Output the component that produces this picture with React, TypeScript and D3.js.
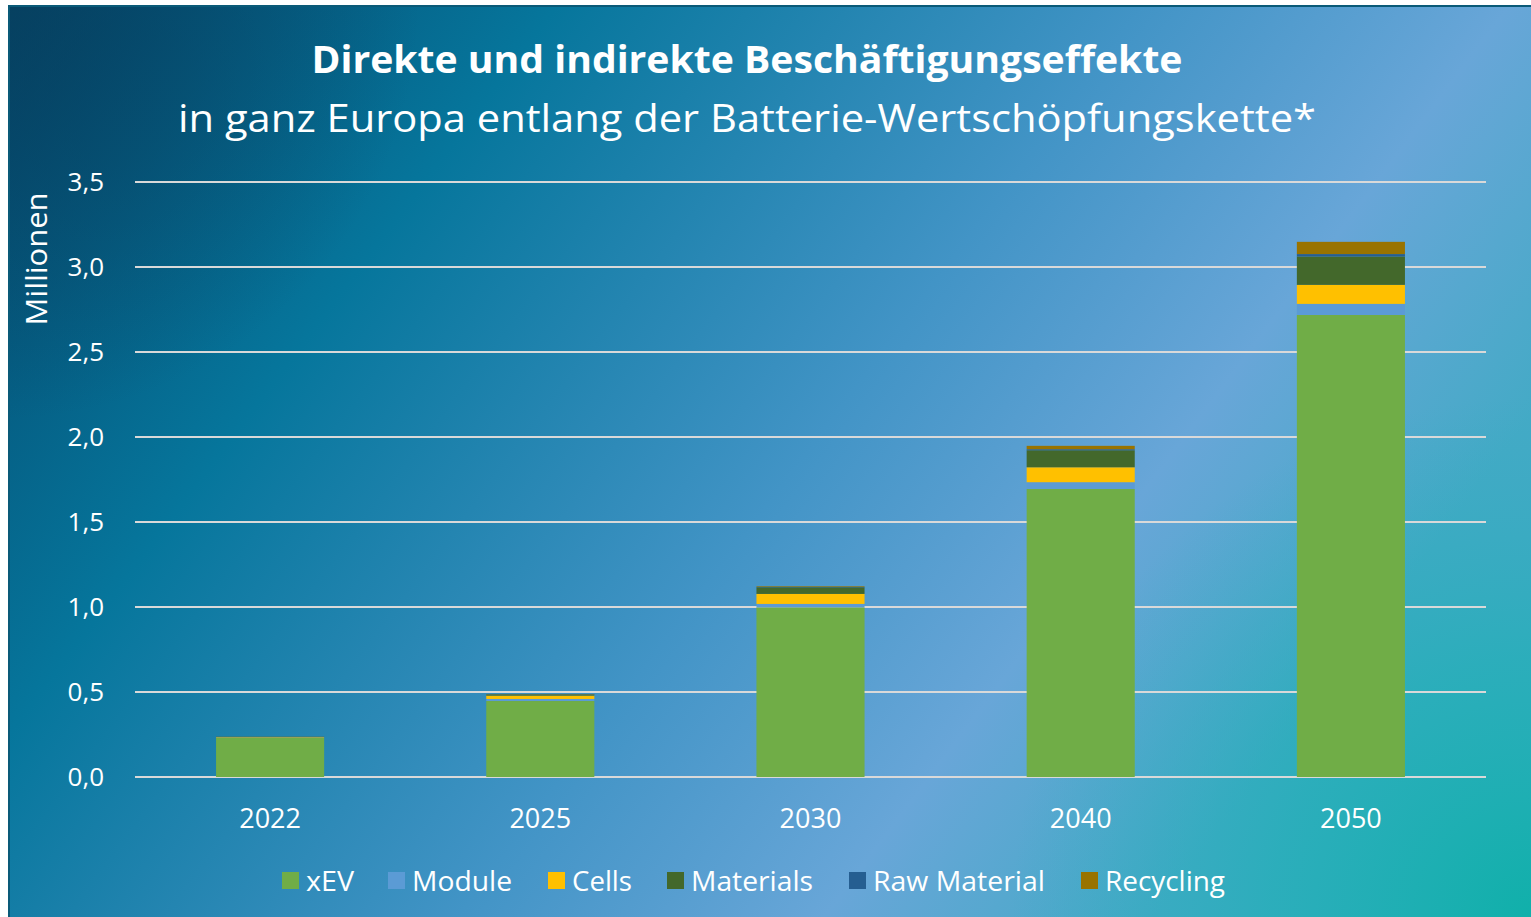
import React from "react";
import * as d3 from "d3";

const years = ["2022", "2025", "2030", "2040", "2050"];
const seriesNames = ["xEV", "Module", "Cells", "Materials", "Raw Material", "Recycling"];
const xEV = [0.23, 0.447, 0.998, 1.694, 2.718];
const moduleVals = [0.002, 0.012, 0.02, 0.04, 0.065];
const cells = [0.003, 0.02, 0.059, 0.088, 0.112];
const materials = [0.001, 0.006, 0.039, 0.1, 0.167];
const rawMaterial = [0.0, 0.001, 0.002, 0.006, 0.014];
const recycling = [0.001, 0.002, 0.004, 0.02, 0.072];
const colors = ["#70ad47", "#5b9bd5", "#ffc000", "#43682b", "#255e91", "#997300"];
const yTicks = [0, 0.5, 1, 1.5, 2, 2.5, 3, 3.5];

const W = 1531;
const H = 917;
const FONT = "'Open Sans', 'Noto Sans', sans-serif";

export default function App() {
  const x = d3.scaleBand<string>().domain(years).range([135, 1486]).paddingInner(0.6).paddingOuter(0.3);
  const y = d3.scaleLinear().domain([0, 3.5]).range([777, 182]);
  const table = years.map((yr, i) => ({
    year: yr,
    xEV: xEV[i],
    Module: moduleVals[i],
    Cells: cells[i],
    Materials: materials[i],
    "Raw Material": rawMaterial[i],
    Recycling: recycling[i],
  }));
  const stack = d3.stack<any>().keys(seriesNames)(table);
  const fmt = (v: number) => v.toFixed(1).replace(".", ",");
  const legendX = [282, 388, 548, 667, 849, 1081];
  const legendW = [48, 100, 60, 122, 172, 120];

  return (
    <svg width={W} height={H} style={{ position: "absolute", left: 0, top: 0 }} fontFamily={FONT}>
      <defs>
        <linearGradient id="bg" x1="0" y1="0" x2="1" y2="0.45" gradientUnits="objectBoundingBox">
          <stop offset="0" stopColor="#04456a" />
          <stop offset="0.3" stopColor="#06769c" />
          <stop offset="0.62" stopColor="#4294c6" />
          <stop offset="0.82" stopColor="#68a6d8" />
          <stop offset="1" stopColor="#44aac6" />
        </linearGradient>
        <radialGradient id="teal" cx="1531" cy="917" r="520" gradientUnits="userSpaceOnUse">
          <stop offset="0" stopColor="#10b0aa" stopOpacity={1} />
          <stop offset="0.5" stopColor="#1cb0b4" stopOpacity={0.6} />
          <stop offset="1" stopColor="#30aac0" stopOpacity={0} />
        </radialGradient>
        <radialGradient id="dark" cx="0" cy="0" r="420" gradientUnits="userSpaceOnUse">
          <stop offset="0" stopColor="#073e5c" stopOpacity={0.7} />
          <stop offset="1" stopColor="#073e5c" stopOpacity={0} />
        </radialGradient>
      </defs>
      <rect x={0} y={0} width={W} height={H} fill="#ffffff" />
      <rect x={8} y={5} width={W - 8} height={H - 5} fill="url(#bg)" />
      <rect x={8} y={5} width={W - 8} height={H - 5} fill="url(#teal)" />
      <rect x={8} y={5} width={W - 8} height={H - 5} fill="url(#dark)" />
      <line x1={8} x2={W} y1={6} y2={6} stroke="#0a5a78" strokeWidth={2} />
      <line x1={9} x2={9} y1={5} y2={H} stroke="#0a5a78" strokeWidth={2} />
      <text x={747} y={73} textAnchor="middle" fill="#fff" fontWeight="bold" fontSize={38} textLength={871} lengthAdjust="spacingAndGlyphs">
        Direkte und indirekte Beschäftigungseffekte
      </text>
      <text x={747} y={132} textAnchor="middle" fill="#fff" fontSize={38} textLength={1138} lengthAdjust="spacingAndGlyphs">
        in ganz Europa entlang der Batterie-Wertschöpfungskette*
      </text>
      {yTicks.map((t) => (
        <g key={t}>
          <line x1={135} x2={1486} y1={y(t)} y2={y(t)} stroke="#d9d9d9" strokeWidth={2} />
          <text x={104} y={y(t) + 9} textAnchor="end" fill="#fff" fontSize={26}>
            {fmt(t)}
          </text>
        </g>
      ))}
      <text transform="translate(47,259) rotate(-90)" textAnchor="middle" fill="#fff" fontSize={30} textLength={133} lengthAdjust="spacingAndGlyphs">
        Millionen
      </text>
      {stack.map((s, si) =>
        s.map((d, i) => (
          <rect
            key={si + "-" + i}
            x={x(years[i])}
            width={x.bandwidth()}
            y={y(d[1])}
            height={Math.max(0, y(d[0]) - y(d[1]))}
            fill={colors[si]}
          />
        ))
      )}
      {years.map((yr) => (
        <text key={yr} x={(x(yr) as number) + x.bandwidth() / 2} y={828} textAnchor="middle" fill="#fff" fontSize={27}>
          {yr}
        </text>
      ))}
      {seriesNames.map((n, i) => (
        <g key={n}>
          <rect x={legendX[i]} y={872} width={17} height={17} fill={colors[i]} />
          <text x={legendX[i] + 24} y={891} fill="#fff" fontSize={27} textLength={legendW[i]} lengthAdjust="spacingAndGlyphs">
            {n}
          </text>
        </g>
      ))}
    </svg>
  );
}
